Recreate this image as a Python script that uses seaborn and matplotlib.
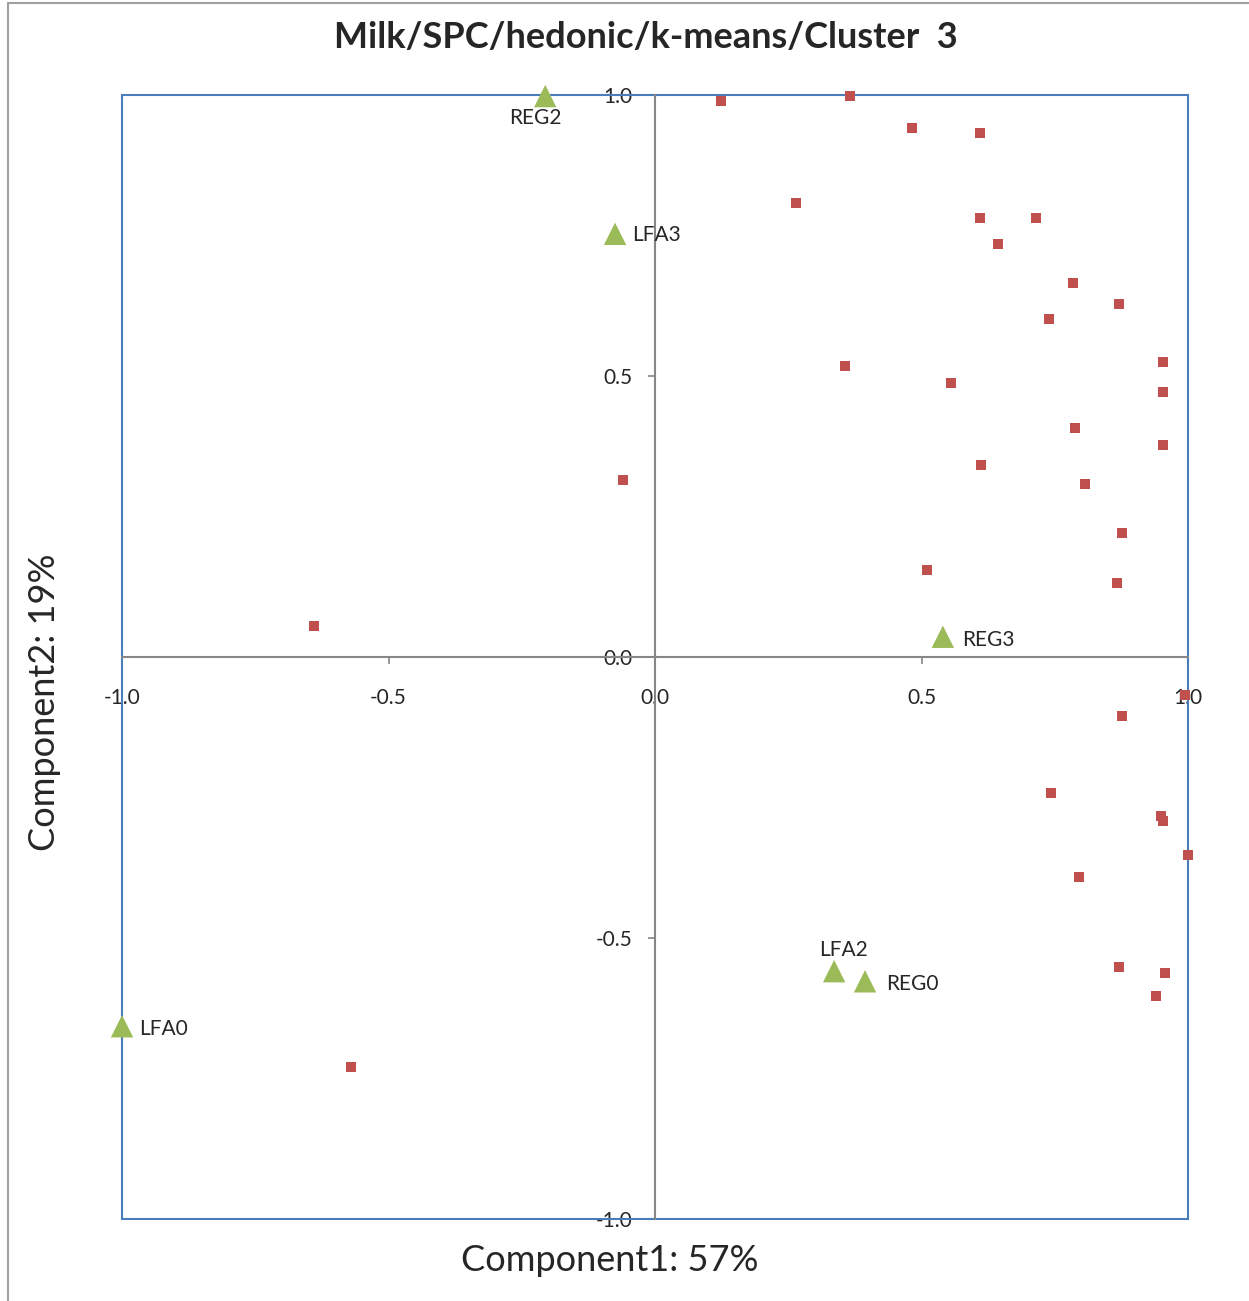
import matplotlib
matplotlib.use("Agg")
import matplotlib.pyplot as plt
import numpy as np
import pandas as pd
import seaborn as sns
from matplotlib.patches import Rectangle
from matplotlib.lines import Line2D

# ********************** data **********************#
# attributes (red squares)
attr_x = [0.124, 0.366, 0.482, 0.610, 0.265, 0.610, 0.715, 0.644, 0.784, 0.871,
          0.739, 0.953, 0.356, 0.555, 0.953, 0.788, 0.953, 0.612, -0.060, 0.807,
          0.876, 0.510, 0.867, -0.640, 0.994, 0.876, 0.743, 0.949, 0.953, 1.000,
          0.795, 0.871, 0.957, 0.940, -0.570]
attr_y = [0.989, 0.998, 0.941, 0.932, 0.808, 0.781, 0.781, 0.735, 0.665, 0.628,
          0.601, 0.525, 0.518, 0.488, 0.472, 0.407, 0.377, 0.342, 0.315, 0.308,
          0.221, 0.155, 0.132, 0.055, -0.068, -0.105, -0.242, -0.283, -0.292, -0.352,
          -0.391, -0.552, -0.562, -0.603, -0.730]

# products (green triangles)
prod_names = ["REG2", "LFA3", "REG3", "LFA2", "REG0", "LFA0"]
prod_x = [-0.206, -0.075, 0.540, 0.336, 0.394, -1.000]
prod_y = [0.998, 0.753, 0.036, -0.559, -0.577, -0.657]

ticks = [-1.0, -0.5, 0.0, 0.5, 1.0]
title = "Milk/SPC/hedonic/k-means/Cluster  3"
xlabel = "Component1: 57%"
ylabel = "Component2: 19%"

# ********************** styling **********************#
red = "#c0504d"
green = "#9bbb59"
box_blue = "#4a7ebb"
axis_grey = "#868686"

sns.set_style("white")
plt.rcParams['font.family'] = ['Lato', 'DejaVu Sans']

attr = pd.DataFrame({"x": attr_x, "y": attr_y})
prod = pd.DataFrame({"x": prod_x, "y": prod_y, "name": prod_names})

fig = plt.figure(figsize=(12.49, 13.01), dpi=100)
ax = fig.add_axes([0.0977, 0.0630, 0.8535, 0.8640])

sns.scatterplot(data=attr, x="x", y="y", ax=ax, marker="s", s=55,
                color=red, edgecolor="none", clip_on=False, zorder=3)
sns.scatterplot(data=prod, x="x", y="y", ax=ax, marker="^", s=260,
                color=green, edgecolor="none", clip_on=False, zorder=3)

# label offsets (points) per product
offsets = {"REG2": (-7, -16, "center"), "LFA3": (12, -1, "left"),
           "REG3": (14, -2, "left"), "LFA2": (7, 15, "center"),
           "REG0": (15, -2, "left"), "LFA0": (12, -2, "left")}
for _, r in prod.iterrows():
    dx, dy, ha = offsets[r["name"]]
    ax.annotate(r["name"], (r["x"], r["y"]), xytext=(dx, dy),
                textcoords="offset points", ha=ha, va="center", fontsize=15)

ax.set_xlim(-1, 1)
ax.set_ylim(-1, 1)
ax.set_xticks(ticks)
ax.set_yticks(ticks)
ax.set_xticklabels([f"{t:.1f}" for t in ticks])
ax.set_yticklabels([f"{t:.1f}" for t in ticks])

# axes through the origin
for side in ["left", "bottom"]:
    ax.spines[side].set_position(("data", 0))
    ax.spines[side].set_color(axis_grey)
    ax.spines[side].set_linewidth(1.5)
for side in ["top", "right"]:
    ax.spines[side].set_visible(False)
ax.tick_params(axis="both", direction="out", length=5, width=1.2,
               color=axis_grey, labelsize=15)
ax.tick_params(axis="x", pad=17)
ax.tick_params(axis="y", pad=11)
ax.xaxis.set_ticks_position("bottom")
ax.yaxis.set_ticks_position("left")

# plot-area box
ax.add_patch(Rectangle((0, 0), 1, 1, transform=ax.transAxes, fill=False,
                       edgecolor=box_blue, linewidth=1.5, clip_on=False, zorder=1))

ax.set_xlabel("")
ax.set_ylabel("")
fig.text(0.488, 0.031, xlabel, ha="center", va="center", fontsize=26)
fig.text(0.036, 0.46, ylabel, ha="center", va="center", fontsize=26, rotation=90)
fig.text(0.517, 0.971, title, ha="center", va="center", fontsize=26,
         fontweight="bold")

# outer chart border (left and top visible)
fig.add_artist(Line2D([0.0065, 0.0065], [0.0, 0.998], color="#a0a0a0", lw=1.5))
fig.add_artist(Line2D([0.0065, 1.0], [0.998, 0.998], color="#a0a0a0", lw=1.5))

fig.savefig("out.png", dpi=100, facecolor="white")
